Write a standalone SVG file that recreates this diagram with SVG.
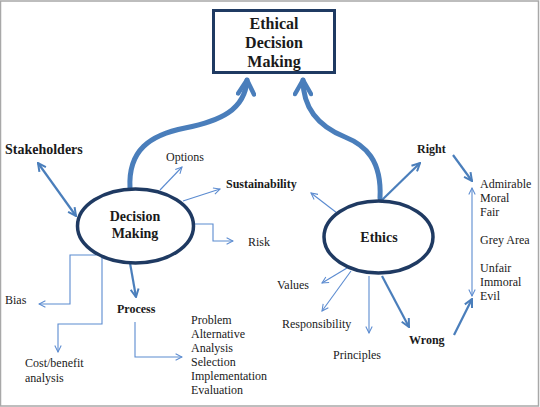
<svg xmlns="http://www.w3.org/2000/svg" width="540" height="407" viewBox="0 0 540 407" font-family="Liberation Serif, serif">
<style>
text{fill:#1a1a1a;font-size:12px}
.b{font-weight:bold}
.t{font-size:16px;font-weight:bold;text-anchor:middle}
.n{font-size:14px;font-weight:bold;text-anchor:middle}
.thin{fill:none;stroke:#5b8bd0;stroke-width:1.1}
.mid{fill:none;stroke:#4a7ebb;stroke-width:2.2}
.big{fill:none;stroke:#4a7ebb;stroke-width:5;stroke-linecap:round}
.node{fill:#fff;stroke:#1f3a62;stroke-width:3.5}
</style>
<defs>
<marker id="aT" markerUnits="userSpaceOnUse" viewBox="0 0 10 10" refX="9" refY="5" markerWidth="8" markerHeight="8" orient="auto-start-reverse">
<path d="M1,1 L9,5 L1,9" fill="none" stroke="#5b8bd0" stroke-width="1.3"/>
</marker>
<marker id="aM" markerUnits="userSpaceOnUse" viewBox="0 0 10 10" refX="9" refY="5" markerWidth="10" markerHeight="10" orient="auto-start-reverse">
<path d="M1,1 L9,5 L1,9" fill="none" stroke="#4a7ebb" stroke-width="2"/>
</marker>
<marker id="aB" markerUnits="userSpaceOnUse" viewBox="0 0 20 20" refX="17" refY="10" markerWidth="20" markerHeight="20" orient="auto">
<path d="M3,2 L17,10 L3,18" fill="none" stroke="#4a7ebb" stroke-width="4.5" stroke-linecap="round" stroke-linejoin="round"/>
</marker>
</defs>
<rect x="0.5" y="1" width="538" height="405" fill="#fff" stroke="#a8a8a8" stroke-width="1.5"/>

<g id="connectors">
<path class="big" d="M130,188 C128,150 150,135 185,128 C220,121 245,110 247,80" marker-end="url(#aB)"/>
<path class="big" d="M380,198 C382,160 365,145 345,137 C320,127 303,110 303,80" marker-end="url(#aB)"/>
<line class="mid" x1="38" y1="163" x2="76" y2="216" marker-start="url(#aM)" marker-end="url(#aM)"/>
<line class="thin" x1="160" y1="190" x2="182" y2="167" marker-end="url(#aT)"/>
<line class="thin" x1="183" y1="201" x2="220" y2="189" marker-end="url(#aT)"/>
<polyline class="thin" points="194,224 213,224 213,241 233,241" marker-end="url(#aT)"/>
<polyline class="thin" points="102,255 70,255 70,304 39,304" marker-end="url(#aT)"/>
<polyline class="thin" points="102,257 102,324 58,324 58,352" marker-end="url(#aT)"/>
<line class="mid" x1="130" y1="263" x2="136" y2="297" marker-end="url(#aM)"/>
<polyline class="thin" points="135,322 135,357 182,357" marker-end="url(#aT)"/>
<line class="thin" x1="337" y1="213" x2="311" y2="193" marker-end="url(#aT)"/>
<line class="mid" x1="382" y1="200" x2="420" y2="163" marker-end="url(#aM)"/>
<line class="mid" x1="453" y1="155" x2="472" y2="181" marker-end="url(#aM)"/>
<line class="thin" x1="472" y1="188" x2="472" y2="296" marker-start="url(#aT)" marker-end="url(#aT)"/>
<line class="mid" x1="382" y1="276" x2="409" y2="327" marker-end="url(#aM)"/>
<line class="mid" x1="454" y1="335" x2="472" y2="299" marker-end="url(#aM)"/>
<line class="thin" x1="347" y1="268" x2="322" y2="283" marker-end="url(#aT)"/>
<line class="thin" x1="351" y1="271" x2="322" y2="311" marker-end="url(#aT)"/>
<line class="thin" x1="369" y1="276" x2="369" y2="333" marker-end="url(#aT)"/>
</g>

<g id="title">
<rect x="213.5" y="10.5" width="121" height="62" fill="#fff" stroke="#1f3a62" stroke-width="3"/>
<text class="t" x="274" y="29">Ethical</text>
<text class="t" x="274" y="48">Decision</text>
<text class="t" x="274" y="67">Making</text>
</g>

<g id="decision-making">
<ellipse class="node" cx="135.5" cy="226" rx="58" ry="37"/>
<text class="n" x="135" y="221">Decision</text>
<text class="n" x="135" y="238">Making</text>
</g>

<g id="ethics">
<ellipse class="node" cx="378.5" cy="237" rx="54.5" ry="36"/>
<text class="n" x="379" y="242">Ethics</text>
</g>

<g id="stakeholders"><text class="b" x="5" y="154" style="font-size:14px">Stakeholders</text></g>
<g id="options"><text x="166" y="161">Options</text></g>
<g id="sustainability"><text class="b" x="226" y="188">Sustainability</text></g>
<g id="risk"><text x="248" y="246">Risk</text></g>
<g id="bias"><text x="5" y="304">Bias</text></g>
<g id="cost-benefit"><text x="25" y="367">Cost/benefit</text><text x="25" y="382">analysis</text></g>
<g id="process"><text class="b" x="117" y="313">Process</text></g>
<g id="process-steps">
<text x="191" y="324">Problem</text>
<text x="191" y="338">Alternative</text>
<text x="191" y="352">Analysis</text>
<text x="191" y="366">Selection</text>
<text x="191" y="380">Implementation</text>
<text x="191" y="394">Evaluation</text>
</g>
<g id="right"><text class="b" x="417" y="153">Right</text></g>
<g id="wrong"><text class="b" x="409" y="344">Wrong</text></g>
<g id="values"><text x="277" y="289">Values</text></g>
<g id="responsibility"><text x="282" y="328">Responsibility</text></g>
<g id="principles"><text x="333" y="359">Principles</text></g>
<g id="scale">
<text x="480" y="188">Admirable</text>
<text x="480" y="202">Moral</text>
<text x="480" y="216">Fair</text>
<text x="480" y="244">Grey Area</text>
<text x="480" y="272">Unfair</text>
<text x="480" y="286">Immoral</text>
<text x="480" y="300">Evil</text>
</g>
</svg>
